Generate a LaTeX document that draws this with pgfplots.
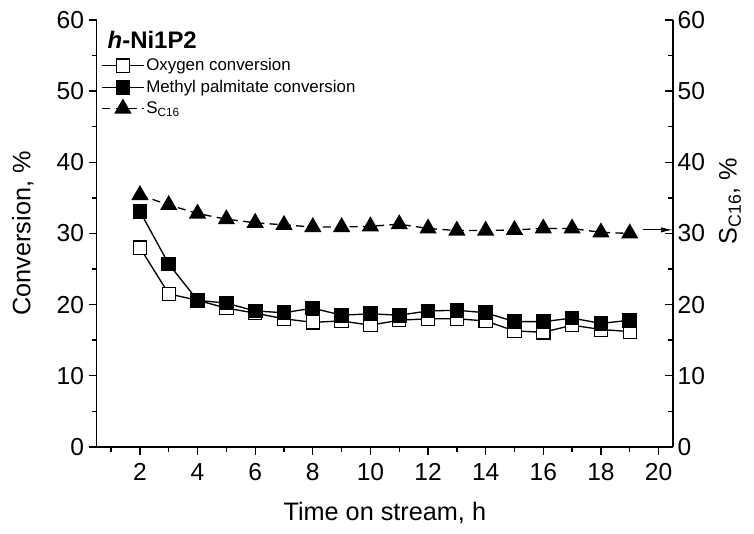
\documentclass[border=0pt]{standalone}
\usepackage{fontspec}
\setmainfont{Liberation Sans}
\usepackage{pgfplots}
\pgfplotsset{compat=1.18}
\usetikzlibrary{arrows.meta}

\begin{document}
\begin{tikzpicture}
\pgfplotsset{
  common/.style={
    scale only axis, width=432bp, height=320bp,
    xmin=0.5, xmax=20.5, ymin=0, ymax=60,
    axis line style={line width=1.1bp, -},
    ytick={0,10,...,60}, minor ytick={5,15,...,55},
    major tick length=6bp, minor tick length=3.75bp,
    tick style={black, line width=1bp},
    ticklabel style={font=\fontsize{18.5}{22}\selectfont},
    /pgf/number format/assume math mode=true,
  }
}
\begin{axis}[common, name=main,
  axis x line*=bottom, axis y line*=left,
  xtick={2,4,...,20}, minor xtick={1,3,...,19},
  tick align=outside,
  xticklabel shift=3bp,
  xlabel={Time on stream, h}, ylabel={Conversion, \%},
  label style={font=\fontsize{19}{23}\selectfont},
  xlabel style={at={(rel axis cs:0.5,-0.155)}, anchor=center},
  ylabel style={at={(rel axis cs:-0.128,0.5)}, anchor=center},
  legend style={at={(rel axis cs:0.008,0.915)}, anchor=north west,
    draw=none, fill=none, inner sep=0pt,
    font=\fontsize{12.7}{15}\selectfont,
    row sep=2.5bp, nodes={inner sep=1.5bp}},
  legend cell align=left,
  legend image code/.code={
    \draw[mark repeat=2, mark phase=2] plot coordinates {(0bp,0bp) (15.5bp,0bp) (31bp,0bp)};},
  clip=false,
]
\addplot[black, line width=1bp, mark=square*, mark size=5bp,
  mark options={fill=white, solid, line width=0.8bp}]
coordinates {
  (2,28.0) (3,21.5) (4,20.6) (5,19.5) (6,18.8) (7,18.0) (8,17.5) (9,17.7)
  (10,17.1) (11,17.8) (12,18.0) (13,18.0) (14,17.7) (15,16.3) (16,16.1)
  (17,17.1) (18,16.5) (19,16.2)};
\addlegendentry{Oxygen conversion}
\addplot[black, line width=1bp, mark=square*, mark size=5bp,
  mark options={fill=black, solid}]
coordinates {
  (2,33.1) (3,25.7) (4,20.6) (5,20.2) (6,19.1) (7,18.85) (8,19.5) (9,18.5)
  (10,18.7) (11,18.5) (12,19.1) (13,19.2) (14,18.85) (15,17.6) (16,17.6)
  (17,18.1) (18,17.35) (19,17.8)};
\addlegendentry{Methyl palmitate conversion}
\addplot[black, line width=1bp, dash pattern=on 6bp off 4bp,
  mark=triangle*, mark size=6.5bp, mark options={fill=black, solid}]
coordinates {
  (2,35.4) (3,34.0) (4,32.8) (5,32.0) (6,31.5) (7,31.2) (8,30.9) (9,30.9)
  (10,31.0) (11,31.3) (12,30.7) (13,30.4) (14,30.4) (15,30.5) (16,30.7)
  (17,30.7) (18,30.15) (19,30.0)};
\addlegendentry{S\textsubscript{C16}}
\addplot[black, line width=0.8bp, -{Latex[length=9bp,width=4bp]}, forget plot]
coordinates {(19.45,30.5) (20.5,30.5)};
\node[anchor=base west, font=\fontsize{18}{21}\selectfont\bfseries]
  at (rel axis cs:0.011,0.933) {\textit{h}-Ni1P2};
\node[rotate=90, font=\fontsize{19}{23}\selectfont]
  at (rel axis cs:1.099,0.576) {S\textsubscript{C16}, \%};
\end{axis}
\begin{axis}[common,
  axis x line=none, axis y line*=right,
  xtick=\empty, tick align=inside,
  yticklabel pos=right,
]
\end{axis}
\path[use as bounding box] ([shift={(-72.5bp,-64.7bp)}]main.south west)
  rectangle ([shift={(60.75bp,15bp)}]main.north east);
\end{tikzpicture}
\end{document}
